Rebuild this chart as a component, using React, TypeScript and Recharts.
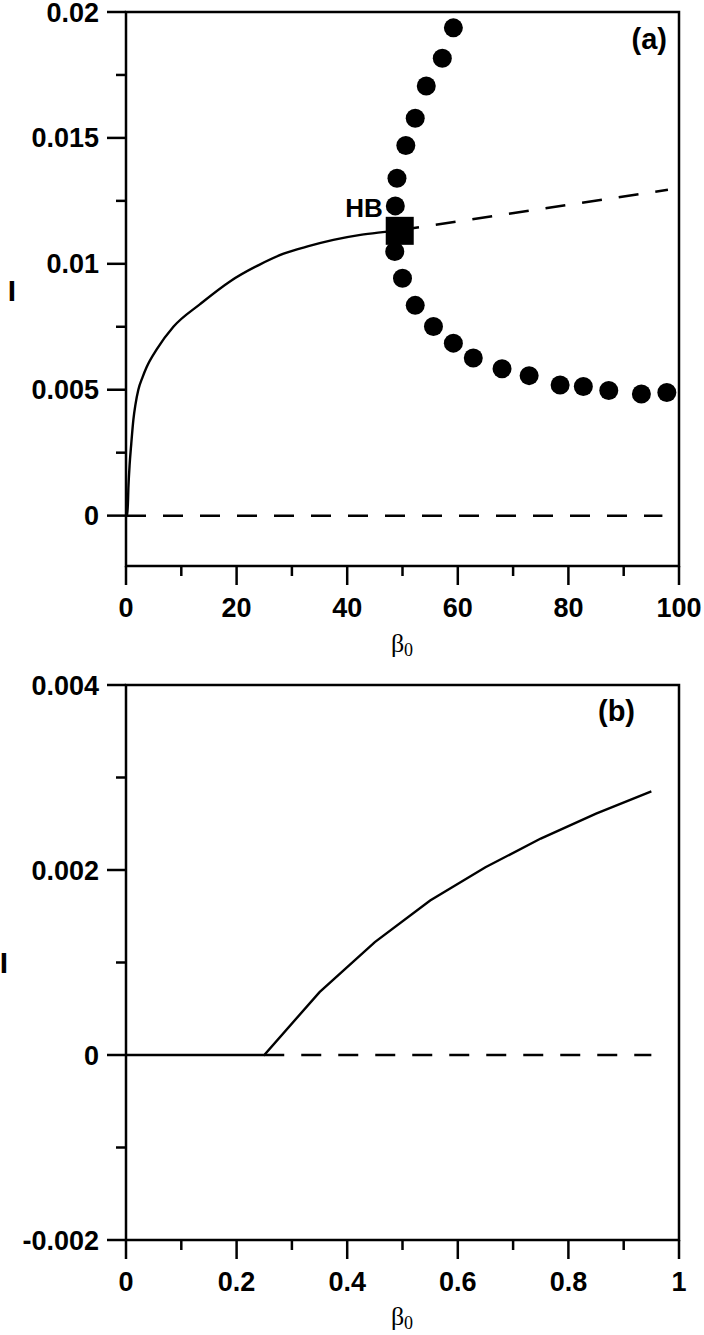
import React from 'react';
import { ComposedChart, Line, Scatter, XAxis, YAxis, ReferenceArea } from 'recharts';

// ---- panel (a) ----
const solidBetaA = [0, 0.25, 0.45, 0.65, 0.95, 1.33, 1.7, 2.23, 3, 3.74, 5.55, 8.57, 13.4, 18.8, 24, 28.5, 33, 37.5, 42.4, 46, 49.4];
const solidIA = [0, 0, 0.0012, 0.002, 0.00285, 0.0038, 0.0044, 0.005, 0.0055, 0.0059, 0.0066, 0.0075, 0.0084, 0.0093, 0.00995, 0.0104, 0.0107, 0.01095, 0.01115, 0.01125, 0.01133];
const unstableBetaA = [49.4, 98];
const unstableIA = [0.01133, 0.01294];
const zeroBetaA = [0, 97];
const zeroIA = [0, 0];
const cycleBetaA = [59.2, 57.2, 54.3, 52.3, 50.6, 49.0, 48.7, 48.6, 50.0, 52.3, 55.6, 59.2, 62.8, 68.0, 72.9, 78.5, 82.7, 87.3, 93.2, 97.8];
const cycleIA = [0.01937, 0.01816, 0.01706, 0.01578, 0.0147, 0.0134, 0.0123, 0.01049, 0.00943, 0.00835, 0.00751, 0.00685, 0.00626, 0.00583, 0.00556, 0.00519, 0.00513, 0.00497, 0.00483, 0.00489];
const hopfBeta = [49.5];
const hopfI = [0.01131];
const hopfLabel = ['HB'];

const xMajorA = [0, 20, 40, 60, 80, 100];
const xMinorA = [10, 30, 50, 70, 90];
const xLabelsA = ['0', '20', '40', '60', '80', '100'];
const yMajorA = [0, 0.005, 0.01, 0.015, 0.02];
const yMinorA = [0.0025, 0.0075, 0.0125, 0.0175];
const yLabelsA = ['0', '0.005', '0.01', '0.015', '0.02'];

// ---- panel (b) ----
const solidBetaB = [0, 0.25, 0.35, 0.45, 0.55, 0.65, 0.75, 0.85, 0.95];
const solidIB = [0, 0, 0.00068, 0.00122, 0.00167, 0.00203, 0.00234, 0.00261, 0.00285];
const zeroBetaB = [0.25, 0.95];
const zeroIB = [0, 0];

const xMajorB = [0, 0.2, 0.4, 0.6, 0.8, 1];
const xMinorB = [0.1, 0.3, 0.5, 0.7, 0.9];
const xLabelsB = ['0', '0.2', '0.4', '0.6', '0.8', '1'];
const yMajorB = [-0.002, 0, 0.002, 0.004];
const yMinorB = [-0.001, 0.001, 0.003];
const yLabelsB = ['-0.002', '0', '0.002', '0.004'];

const zip = (b: number[], i: number[], extra?: string[]) =>
  b.map((v, k) => ({ b: v, i: i[k], label: extra ? extra[k] : undefined }));

const sans = 'Liberation Sans, Arial, Helvetica, sans-serif';
const serif = 'Liberation Serif, Times New Roman, serif';

function YTick(props: any) {
  const { x, y, payload, majors, labels } = props;
  const idx = majors.indexOf(payload.value);
  const major = idx >= 0;
  return (
    <g>
      <line x1={x - (major ? 19 : 10)} x2={x} y1={y} y2={y} stroke="#000" strokeWidth={2.5} />
      {major && (
        <text x={x - 27} y={y + 9.5} textAnchor="end" fontFamily={sans} fontWeight="bold" fontSize={27} fill="#000">
          {labels[idx]}
        </text>
      )}
    </g>
  );
}

function XTick(props: any) {
  const { x, y, payload, majors, labels } = props;
  const idx = majors.indexOf(payload.value);
  const major = idx >= 0;
  return (
    <g>
      <line x1={x} x2={x} y1={y} y2={y + (major ? 19 : 10)} stroke="#000" strokeWidth={2.5} />
      {major && (
        <text x={x} y={y + 51} textAnchor="middle" fontFamily={sans} fontWeight="bold" fontSize={27} fill="#000">
          {labels[idx]}
        </text>
      )}
    </g>
  );
}

const Dot = (p: any) => <circle cx={p.cx} cy={p.cy} r={9.5} fill="#000" />;

const HopfMark = (p: any) => (
  <g>
    <rect x={p.cx - 14} y={p.cy - 14} width={28} height={28} fill="#000" />
    <text x={p.cx - 17} y={p.cy - 14} textAnchor="end" fontFamily={sans} fontWeight="bold" fontSize={26} fill="#000">
      {p.payload.label}
    </text>
  </g>
);

const sortNum = (a: number[], b: number[]) => [...a, ...b].sort((p, q) => p - q);

export default function App() {
  return (
    <div style={{ position: 'absolute', left: 0, top: 0, width: 704, height: 1335, background: '#fff' }}>
      <div style={{ position: 'absolute', left: 0, top: 0 }}>
        <ComposedChart width={704} height={660} margin={{ top: 12, right: 25, bottom: 34, left: 0 }}>
          <XAxis
            type="number"
            dataKey="b"
            domain={[0, 100]}
            ticks={sortNum(xMajorA, xMinorA)}
            interval={0}
            height={60}
            axisLine={false}
            tickLine={false}
            tickSize={0}
            tickMargin={0}
            allowDataOverflow
            tick={(p: any) => <XTick {...p} majors={xMajorA} labels={xLabelsA} />}
          />
          <YAxis
            type="number"
            dataKey="i"
            domain={[-0.002, 0.02]}
            ticks={sortNum(yMajorA, yMinorA)}
            interval={0}
            width={126}
            axisLine={false}
            tickLine={false}
            tickSize={0}
            tickMargin={0}
            allowDataOverflow
            tick={(p: any) => <YTick {...p} majors={yMajorA} labels={yLabelsA} />}
          />
          <ReferenceArea x1={0} x2={100} y1={-0.002} y2={0.02} fill="none" stroke="#000" strokeWidth={2.5} ifOverflow="visible" />
          <Line data={zip(zeroBetaA, zeroIA)} dataKey="i" type="linear" stroke="#000" strokeWidth={2.5} strokeDasharray="20 17" dot={false} activeDot={false} isAnimationActive={false} />
          <Line data={zip(unstableBetaA, unstableIA)} dataKey="i" type="linear" stroke="#000" strokeWidth={2.5} strokeDasharray="20 17" dot={false} activeDot={false} isAnimationActive={false} />
          <Line data={zip(solidBetaA, solidIA)} dataKey="i" type="monotone" stroke="#000" strokeWidth={2.4} dot={false} activeDot={false} isAnimationActive={false} />
          <Scatter data={zip(cycleBetaA, cycleIA)} dataKey="i" shape={Dot} isAnimationActive={false} />
          <Scatter data={zip(hopfBeta, hopfI, hopfLabel)} dataKey="i" shape={HopfMark} isAnimationActive={false} />
        </ComposedChart>
      </div>
      <div style={{ position: 'absolute', left: 0, top: 660 }}>
        <ComposedChart width={704} height={675} margin={{ top: 25, right: 25, bottom: 35, left: 0 }}>
          <XAxis
            type="number"
            dataKey="b"
            domain={[0, 1]}
            ticks={sortNum(xMajorB, xMinorB)}
            interval={0}
            height={60}
            axisLine={false}
            tickLine={false}
            tickSize={0}
            tickMargin={0}
            allowDataOverflow
            tick={(p: any) => <XTick {...p} majors={xMajorB} labels={xLabelsB} />}
          />
          <YAxis
            type="number"
            dataKey="i"
            domain={[-0.002, 0.004]}
            ticks={sortNum(yMajorB, yMinorB)}
            interval={0}
            width={126}
            axisLine={false}
            tickLine={false}
            tickSize={0}
            tickMargin={0}
            allowDataOverflow
            tick={(p: any) => <YTick {...p} majors={yMajorB} labels={yLabelsB} />}
          />
          <ReferenceArea x1={0} x2={1} y1={-0.002} y2={0.004} fill="none" stroke="#000" strokeWidth={2.5} ifOverflow="visible" />
          <Line data={zip(zeroBetaB, zeroIB)} dataKey="i" type="linear" stroke="#000" strokeWidth={2.5} strokeDasharray="20 17" dot={false} activeDot={false} isAnimationActive={false} />
          <Line data={zip(solidBetaB, solidIB)} dataKey="i" type="linear" stroke="#000" strokeWidth={2.4} dot={false} activeDot={false} isAnimationActive={false} />
        </ComposedChart>
      </div>
      <svg width={704} height={1335} style={{ position: 'absolute', left: 0, top: 0, pointerEvents: 'none' }}>
        <text x={12} y={301} textAnchor="middle" fontFamily={sans} fontWeight="bold" fontSize={30} fill="#000">I</text>
        <text x={4} y={973} textAnchor="middle" fontFamily={sans} fontWeight="bold" fontSize={30} fill="#000">I</text>
        <text x={667} y={49} textAnchor="end" fontFamily={sans} fontWeight="bold" fontSize={29} fill="#000">(a)</text>
        <text x={635} y={721} textAnchor="end" fontFamily={sans} fontWeight="bold" fontSize={29} fill="#000">(b)</text>
        <text x={402} y={652} textAnchor="middle" fontFamily={serif} fontSize={26} fill="#000">
          β<tspan fontSize={18} dy={4}>0</tspan>
        </text>
        <text x={402} y={1325} textAnchor="middle" fontFamily={serif} fontSize={26} fill="#000">
          β<tspan fontSize={18} dy={4}>0</tspan>
        </text>
      </svg>
    </div>
  );
}
